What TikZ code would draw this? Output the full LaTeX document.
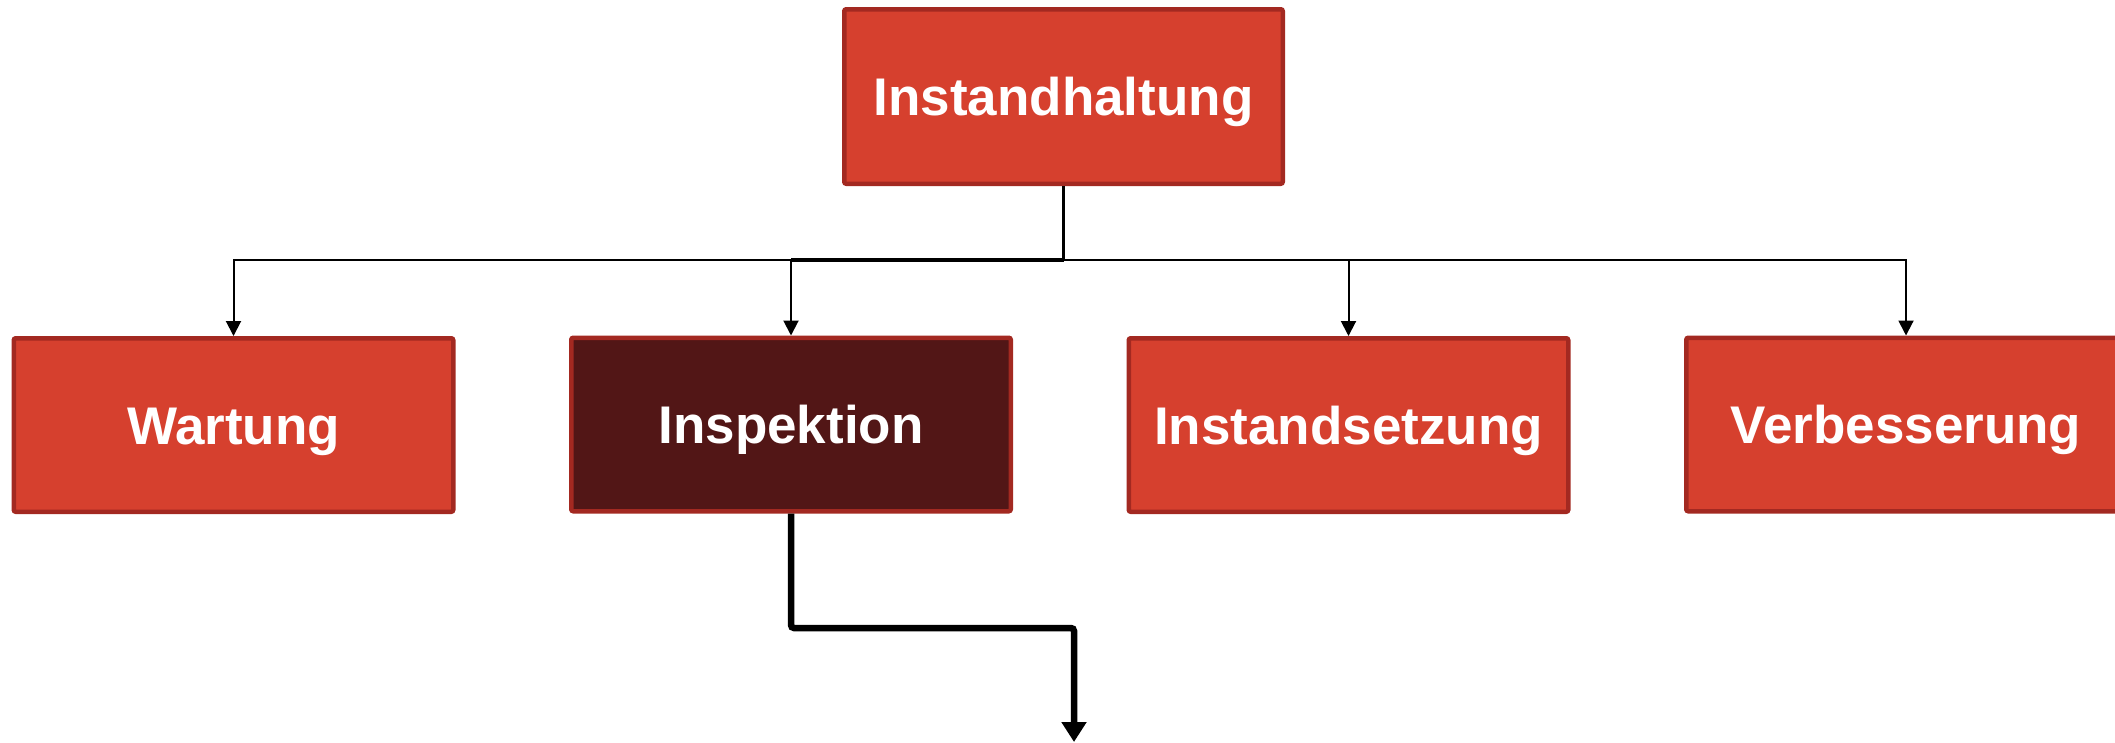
\documentclass[tikz,border=0pt]{standalone}
\usepackage{fontspec}
\setmainfont{Liberation Sans}
\usetikzlibrary{arrows.meta}
\definecolor{boxfill}{RGB}{214,64,46}
\definecolor{boxedge}{RGB}{163,41,33}
\definecolor{darkfill}{RGB}{82,22,22}
\begin{document}
\begin{tikzpicture}[x=1pt,y=-1pt,
  box/.style={draw=boxedge, fill=boxfill, line width=4.5pt, rounded corners=2pt,
    minimum width=439.5pt, minimum height=173.5pt, text=white,
    font=\fontsize{53}{60}\selectfont\bfseries, text height=38pt, text depth=0pt, inner sep=0pt},
  darkbox/.style={box, fill=darkfill},
  stem/.style={draw=black, line width=2.5pt},
  link/.style={draw=black, line width=2pt, -{Triangle[width=15pt,length=15pt]}},
  flow/.style={draw=black, line width=6.5pt, rounded corners=3pt, -{Triangle[width=24pt,length=20pt]}}
]
\useasboundingbox (0,0) rectangle (2115,742);
\node[box, minimum width=438.5pt, minimum height=174.5pt] (top) at (1063.5,96.5) {Instandhaltung};
\node[box] (w) at (233.5,425) {Wartung};
\node[darkbox] (i) at (791,424.5) {Inspektion};
\node[box] (s) at (1348.5,425) {Instandsetzung};
\node[box] (v) at (1906,424.5) {Verbesserung};
\coordinate (bus) at (1063.5,260);
\coordinate (out) at (1074,742);
\draw[stem] (top.south) -- (bus);
\draw[link] (bus) -| (w.north);
\draw[link] (bus) -| (i.north);
\draw[link] (bus) -| (s.north);
\draw[link] (bus) -| (v.north);
\draw[stem, line width=3.5pt] (bus) -- (i.north |- bus);
\draw[flow] (i.south) |- (1074,628) -- (out);
\end{tikzpicture}
\end{document}
